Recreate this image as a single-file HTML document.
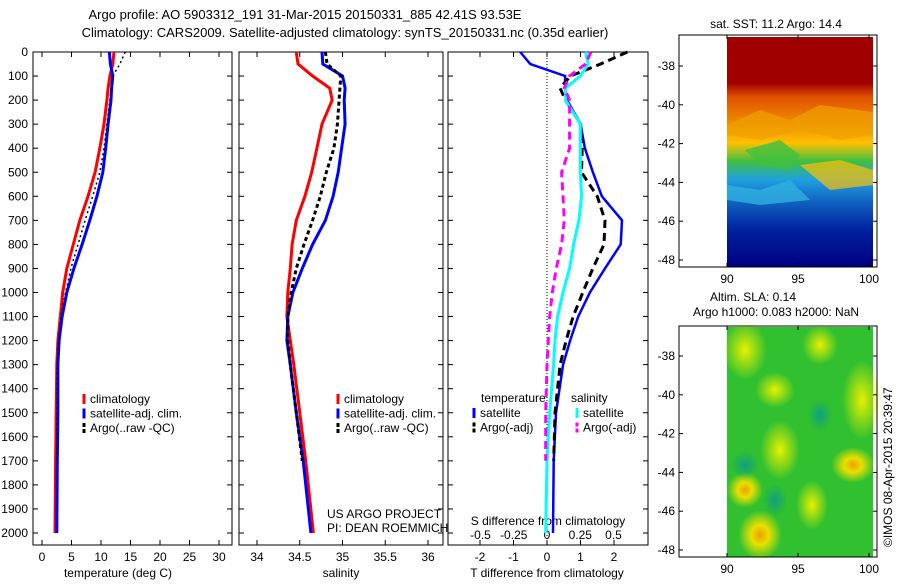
<!DOCTYPE html>
<html><head><meta charset="utf-8"><style>
body{margin:0;background:#fff;width:900px;height:580px;overflow:hidden}
svg text{font-family:"Liberation Sans",sans-serif;fill:#000}
</style></head><body>
<svg id="fig" width="900" height="580" viewBox="0 0 900 580" xmlns="http://www.w3.org/2000/svg">
<defs>
<linearGradient id="sstg" x1="0" y1="0" x2="0" y2="1">
<stop offset="0" stop-color="#a00000"/><stop offset="0.2" stop-color="#a00000"/><stop offset="0.26" stop-color="#e05000"/>
<stop offset="0.38" stop-color="#f09000"/><stop offset="0.46" stop-color="#ffc000"/><stop offset="0.54" stop-color="#40c040"/>
<stop offset="0.62" stop-color="#20a0e0"/><stop offset="0.72" stop-color="#1060c0"/><stop offset="0.84" stop-color="#0020a0"/><stop offset="1" stop-color="#000080"/>
</linearGradient>
<radialGradient id="yb"><stop offset="0" stop-color="#f0a000"/><stop offset="0.4" stop-color="#e8e000"/><stop offset="1" stop-color="#e8e000" stop-opacity="0"/></radialGradient>
<radialGradient id="yl"><stop offset="0" stop-color="#e8f000"/><stop offset="1" stop-color="#e8f000" stop-opacity="0"/></radialGradient>
<radialGradient id="tl"><stop offset="0" stop-color="#10a080"/><stop offset="1" stop-color="#10a080" stop-opacity="0"/></radialGradient>
</defs>
<text x="305" y="19" font-size="13" text-anchor="middle">Argo profile: AO 5903312_191 31-Mar-2015 20150331_885 42.41S 93.53E</text>
<text x="345" y="37" font-size="13" text-anchor="middle">Climatology: CARS2009. Satellite-adjusted climatology: synTS_20150331.nc (0.35d earlier)</text>
<g id="p1"></g>
<g id="p2"></g>
<g id="p3"></g>
<g>
<text x="776" y="28" font-size="12" text-anchor="middle">sat. SST: 11.2 Argo: 14.4</text>
<rect x="727" y="37" width="146" height="230" fill="url(#sstg)"/>
<polygon points="727,125 760,110 790,120 820,105 873,112 873,135 840,140 800,130 760,140 727,135" fill="#f0a000" opacity="0.7"/>
<polygon points="745,150 780,140 800,155 790,170 760,165" fill="#40c040" opacity="0.8"/>
<polygon points="800,165 840,160 873,170 873,185 830,190" fill="#ffc000" opacity="0.7"/>
<polygon points="727,185 760,190 790,180 810,200 760,205 727,200" fill="#30b0e0" opacity="0.8"/>
<rect x="679" y="35" width="198" height="232" fill="none" stroke="#000"/>
</g>
<g>
<text x="753" y="301" font-size="12" text-anchor="middle">Altim. SLA: 0.14</text>
<text x="776" y="316" font-size="12" text-anchor="middle">Argo h1000: 0.083 h2000: NaN</text>
<rect x="727" y="327" width="146" height="230" fill="#30c030"/>
<ellipse cx="745" cy="350" rx="22" ry="30" fill="url(#yl)"/><ellipse cx="820" cy="345" rx="18" ry="20" fill="url(#yl)"/>
<ellipse cx="775" cy="390" rx="20" ry="18" fill="url(#yl)"/><ellipse cx="862" cy="400" rx="20" ry="40" fill="url(#yl)"/>
<ellipse cx="780" cy="450" rx="20" ry="30" fill="url(#yl)"/><ellipse cx="853" cy="465" rx="22" ry="18" fill="url(#yb)"/>
<ellipse cx="745" cy="490" rx="18" ry="18" fill="url(#yb)"/><ellipse cx="812" cy="505" rx="16" ry="25" fill="url(#yl)"/>
<ellipse cx="760" cy="535" rx="22" ry="25" fill="url(#yb)"/><ellipse cx="745" cy="465" rx="14" ry="14" fill="url(#tl)"/>
<ellipse cx="775" cy="500" rx="12" ry="16" fill="url(#tl)"/><ellipse cx="820" cy="415" rx="12" ry="16" fill="url(#tl)"/>
<rect x="679" y="326" width="198" height="231" fill="none" stroke="#000"/>
</g>
<text transform="translate(892,547) rotate(-90)" font-size="12">©IMOS 08-Apr-2015 20:39:47</text>
</svg>
<script>
const NS="http://www.w3.org/2000/svg";
const depths=[0,50,100,150,200,300,400,500,600,700,800,900,1000,1100,1200,1300,1500,1700,2000];
const tempClim=[12.2,12.0,11.5,11.2,11.0,10.5,9.8,9.0,7.8,6.4,5.3,4.2,3.5,3.1,2.7,2.5,2.4,2.3,2.2];
const tempSat=[11.4,11.6,12.0,11.8,11.7,11.2,10.8,10.3,9.3,8.1,6.8,5.4,4.2,3.4,2.9,2.7,2.7,2.6,2.5];
const tempArgo=[14.1,13.2,12.0,11.7,11.5,11.0,10.5,9.8,8.6,7.3,6.1,4.9,4.0,3.2,2.8,2.6,2.6,2.5,null];
const salClim=[34.46,34.48,34.65,34.85,34.88,34.76,34.70,34.64,34.56,34.46,34.41,34.39,34.36,34.35,34.39,34.43,34.50,34.57,34.66];
const salSat=[34.76,34.77,35.00,35.03,35.02,35.03,34.99,34.95,34.89,34.80,34.65,34.53,34.42,34.36,34.35,34.39,34.46,34.54,34.63];
const salArgo=[34.80,34.82,34.98,34.97,34.96,34.94,34.90,34.81,34.74,34.65,34.55,34.46,34.40,34.36,34.36,34.39,34.46,34.53,null];
const dTSat=[-0.8,-0.5,0.54,0.54,0.6,1.0,1.13,1.37,1.64,2.24,2.2,1.73,1.28,0.93,0.69,0.48,0.27,0.2,0.18];
const dTArgo=[2.4,1.6,0.7,0.39,0.55,1.0,1.05,1.03,1.5,1.73,1.7,1.37,1.07,0.78,0.57,0.39,0.24,0.2,null];
const dSSat=[0.29,0.31,0.25,0.14,0.14,0.25,0.25,0.25,0.26,0.24,0.2,0.17,0.12,0.08,0.06,0.05,0.02,0.0,-0.01];
const dSArgo=[0.33,0.29,0.17,0.13,0.17,0.17,0.17,0.11,0.12,0.13,0.11,0.07,0.04,0.02,0.01,0.0,-0.01,-0.01,null];
const depthTicks=[0,100,200,300,400,500,600,700,800,900,1000,1100,1200,1300,1400,1500,1600,1700,1800,1900,2000];
const tempTicks=[0,5,10,15,20,25,30];
const salTicks=[34,34.5,35,35.5,36];
const dTTicks=[-2,-1,0,1,2];
const dSTicks=[-0.5,-0.25,0,0.25,0.5];
const Y=d=>52+d*0.2405;
const xT=v=>42+v*5.9, xS=v=>257+(v-34)*85.5, xDT=v=>547+v*33.5, xDS=v=>547+v*133;
function el(tag,attrs,parent){const e=document.createElementNS(NS,tag);for(const k in attrs)e.setAttribute(k,attrs[k]);parent.appendChild(e);return e;}
function line(g,vals,fx,color,w,dash,name){
  let pts=[];vals.forEach((v,i)=>{if(v!==null)pts.push(fx(v).toFixed(1)+","+Y(depths[i]).toFixed(1));});
  const p=el('polyline',{points:pts.join(' '),fill:'none',stroke:color,'stroke-width':w},g);
  if(dash)p.setAttribute('stroke-dasharray',dash);
  
  
}
function frame(g,x0,x1,ticks,fx,fmt,label,lx){
  el('rect',{x:x0,y:52,width:x1-x0,height:493,fill:'none',stroke:'#000'},g);
  depthTicks.forEach(d=>{el('line',{x1:x0,x2:x0+5,y1:Y(d),y2:Y(d),stroke:'#000'},g);el('line',{x1:x1-5,x2:x1,y1:Y(d),y2:Y(d),stroke:'#000'},g);});
  ticks.forEach(t=>{const x=fx(t);el('line',{x1:x,x2:x,y1:545,y2:540,stroke:'#000'},g);el('line',{x1:x,x2:x,y1:52,y2:57,stroke:'#000'},g);
    const tx=el('text',{x:x,y:561,'font-size':12,'text-anchor':'middle'},g);tx.textContent=fmt(t);
    
    });
  const t=el('text',{x:lx,y:577,'font-size':12,'text-anchor':'middle'},g);t.textContent=label;
  
  
}
function legend(g,x,y,items){
  items.forEach((it,i)=>{const yy=y+i*14.5;el('line',{x1:x,x2:x,y1:yy-9,y2:yy+1,stroke:it[1],'stroke-width':3,'stroke-dasharray':it[2]||''},g);
    const t=el('text',{x:x+6,y:yy,'font-size':12},g);t.textContent=it[0];
    
    });
}
const p1=document.getElementById('p1'),p2=document.getElementById('p2'),p3=document.getElementById('p3');
frame(p1,33,232,tempTicks,xT,String,'temperature (deg C)',118);
depthTicks.forEach(d=>{const t=el('text',{x:28,y:Y(d)+4,'font-size':12,'text-anchor':'end'},p1);t.textContent=d;
  
  });
line(p1,tempClim,xT,'#f00',3,null,'temp-climatology-line');
line(p1,tempSat,xT,'#00f',3,null,'temp-satellite-line');
line(p1,tempArgo,xT,'#000',1.5,'2,3','temp-argo-line');
legend(p1,84,403,[['climatology','#f00'],['satellite-adj. clim.','#00f'],['Argo(..raw -QC)','#000','4,2']]);
frame(p2,239,443,salTicks,xS,String,'salinity',341);
line(p2,salClim,xS,'#f00',3,null,'sal-climatology-line');
line(p2,salSat,xS,'#00f',3,null,'sal-satellite-line');
line(p2,salArgo,xS,'#000',3,'4,3','sal-argo-line');
legend(p2,338,403,[['climatology','#f00'],['satellite-adj. clim.','#00f'],['Argo(..raw -QC)','#000','4,2']]);
const u1=el('text',{x:327,y:518,'font-size':12},p2);u1.textContent='US ARGO PROJECT';
const u2=el('text',{x:327,y:532,'font-size':12},p2);u2.textContent='PI: DEAN ROEMMICH';
frame(p3,448,648,dTTicks,xDT,String,'T difference from climatology',547);
el('line',{x1:547,x2:547,y1:52,y2:545,stroke:'#000','stroke-dasharray':'1,2'},p3);
dSTicks.forEach(t=>{const tx=el('text',{x:xDS(t),y:539,'font-size':12,'text-anchor':'middle'},p3);tx.textContent=String(t);
  
  });
const st=el('text',{x:548,y:525,'font-size':12,'text-anchor':'middle'},p3);st.textContent='S difference from climatology';
line(p3,dTSat,xDT,'#00f',2.5,null,'tdiff-satellite-line');
line(p3,dTArgo,xDT,'#000',3,'8,5','tdiff-argo-line');
line(p3,dSSat,xDS,'#0ff',3,null,'sdiff-satellite-line');
line(p3,dSArgo,xDS,'#f0f',3,'8,5','sdiff-argo-line');
const lt=el('text',{x:481,y:402,'font-size':12},p3);lt.textContent='temperature';
const ls=el('text',{x:571,y:402,'font-size':12},p3);ls.textContent='salinity';
legend(p3,474,417,[['satellite','#00f'],['Argo(-adj)','#000','4,2']]);
legend(p3,577,417,[['satellite','#0ff'],['Argo(-adj)','#f0f','4,2']]);
function mapAxes(y0,y1,latTop,latStep){
  const g=document.getElementById('fig');
  [90,95,100].forEach(l=>{const x=727+(l-90)*14.2;el('line',{x1:x,x2:x,y1:y1,y2:y1-4,stroke:'#000'},g);el('line',{x1:x,x2:x,y1:y0,y2:y0+4,stroke:'#000'},g);
    const t=el('text',{x:x,y:y1+16,'font-size':12,'text-anchor':'middle'},g);t.textContent=l;
    
    });
  [-38,-40,-42,-44,-46,-48].forEach((lat,i)=>{const y=latTop+i*latStep;el('line',{x1:679,x2:683,y1:y,y2:y,stroke:'#000'},g);el('line',{x1:873,x2:877,y1:y,y2:y,stroke:'#000'},g);
    const t=el('text',{x:675,y:y+4,'font-size':12,'text-anchor':'end'},g);t.textContent=lat;
    
    });
}
mapAxes(35,267,66,38.8);
mapAxes(326,557,356,38.8);
</script>
</body></html>
